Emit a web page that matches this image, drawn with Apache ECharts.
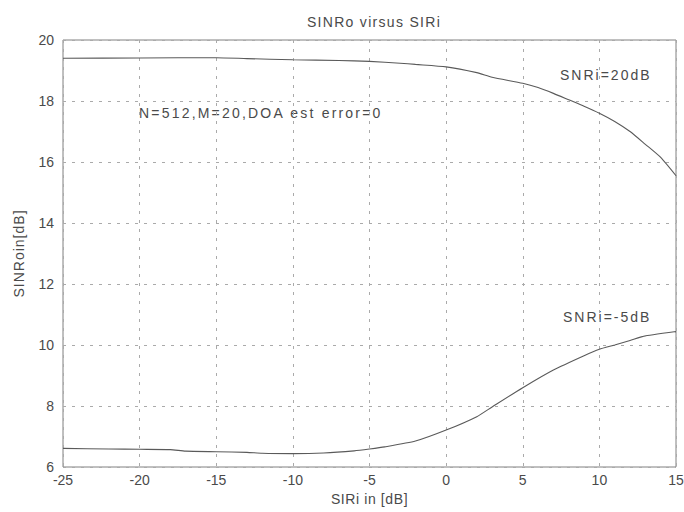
<!DOCTYPE html>
<html>
<head>
<meta charset="utf-8">
<script src="https://cdn.jsdelivr.net/npm/echarts@6/dist/echarts.min.js"></script>
<style>
  html, body { margin: 0; padding: 0; background: #fff; }
  #chart { width: 684px; height: 512px; }
</style>
</head>
<body>
<div id="chart"></div>
<script>
// Get dom in html
let chart_dom = document.getElementById("chart");
let chart = echarts.init(chart_dom, null, {renderer: "svg"});
//----------------------Data----------------------
let x_high = [-25, -20, -15, -13, -10, -7, -5, -3, -2, 0, 2, 3, 5, 6, 7, 8, 9, 10, 11, 12, 13, 14, 15];
let y_high = [19.40, 19.41, 19.42, 19.39, 19.35, 19.33, 19.30, 19.24, 19.20, 19.12, 18.93, 18.78, 18.58, 18.44, 18.25, 18.04, 17.83, 17.60, 17.33, 17.00, 16.58, 16.15, 15.55];
let x_low = [-25, -22, -20, -18, -17, -15, -13, -12, -10, -8, -6, -5, -4, -2, 0, 2, 3, 5, 7, 9, 10, 11, 12, 13, 15];
let y_low = [6.61, 6.59, 6.58, 6.57, 6.52, 6.50, 6.48, 6.45, 6.44, 6.46, 6.53, 6.59, 6.66, 6.85, 7.21, 7.65, 7.97, 8.60, 9.18, 9.65, 9.86, 10.00, 10.15, 10.30, 10.44];
let chart_title = "SINRo virsus SIRi";
let x_name = "SIRi in [dB]";
let y_name = "SINRoin[dB]";
let note_params = "N=512,M=20,DOA est error=0";
let note_high = "SNRi=20dB";
let note_low = "SNRi=-5dB";
//---------------------Style---------------------
let text_color = "#4a4a4a";
let line_color = "#5a5a5a";
let grid_line = {show: true, lineStyle: {color: "#aaa", width: 1, type: [3, 6]}};
let font_family = "Liberation Sans, Arial, sans-serif";
// the scanned figure has widely spaced lettering
let spacing = {};
spacing[chart_title] = "1.3px";
spacing[x_name] = "0.6px";
spacing[y_name] = "1px";
spacing[note_params] = "2.2px";
spacing[note_high] = "2px";
spacing[note_low] = "2px";

function pairs(xs, ys) {
    return xs.map((x, i) => [x, ys[i]]);
}

let note_style = {fontSize: 14, fill: text_color, fontFamily: font_family};

let option = {
    backgroundColor: "#fff",
    animation: false,
    title: {
        text: chart_title,
        left: 369, top: 10, textAlign: "center",
        textStyle: {fontSize: 14, fontWeight: "normal", color: text_color, fontFamily: font_family}
    },
    grid: {
        left: 63, right: 8, top: 40, bottom: 45,
        outerBoundsMode: "none",
        show: true, borderColor: "#808080", borderWidth: 1
    },
    xAxis: {
        type: "value", min: -25, max: 15, interval: 5,
        name: x_name, nameLocation: "middle", nameGap: 25,
        nameTextStyle: {fontSize: 14, color: text_color, fontFamily: font_family},
        axisLine: {show: false},
        axisTick: {show: false},
        axisLabel: {fontSize: 14, color: text_color, fontFamily: font_family, margin: 6},
        splitLine: grid_line
    },
    yAxis: {
        type: "value", min: 6, max: 20, interval: 2,
        name: y_name, nameLocation: "middle", nameGap: 37,
        nameTextStyle: {fontSize: 14, color: text_color, fontFamily: font_family},
        axisLine: {show: false},
        axisTick: {show: false},
        axisLabel: {fontSize: 14, color: text_color, fontFamily: font_family, margin: 9},
        splitLine: grid_line
    },
    series: [
        {
            type: "line", name: note_high, data: pairs(x_high, y_high),
            showSymbol: false, smooth: 0.2,
            lineStyle: {color: line_color, width: 1.1}
        },
        {
            type: "line", name: note_low, data: pairs(x_low, y_low),
            showSymbol: false, smooth: 0.2,
            lineStyle: {color: line_color, width: 1.1}
        }
    ],
    graphic: [
        {type: "text", left: 139, top: 106, style: Object.assign({text: note_params}, note_style)},
        {type: "text", left: 560, top: 68, style: Object.assign({text: note_high}, note_style)},
        {type: "text", left: 563, top: 310, style: Object.assign({text: note_low}, note_style)}
    ]
};

function apply_spacing() {
    chart_dom.querySelectorAll("text").forEach(function (t) {
        let s = spacing[t.textContent];
        if (s) t.style.letterSpacing = s;
    });
}
chart.on("finished", apply_spacing);
chart.setOption(option);
apply_spacing();
</script>
</body>
</html>
